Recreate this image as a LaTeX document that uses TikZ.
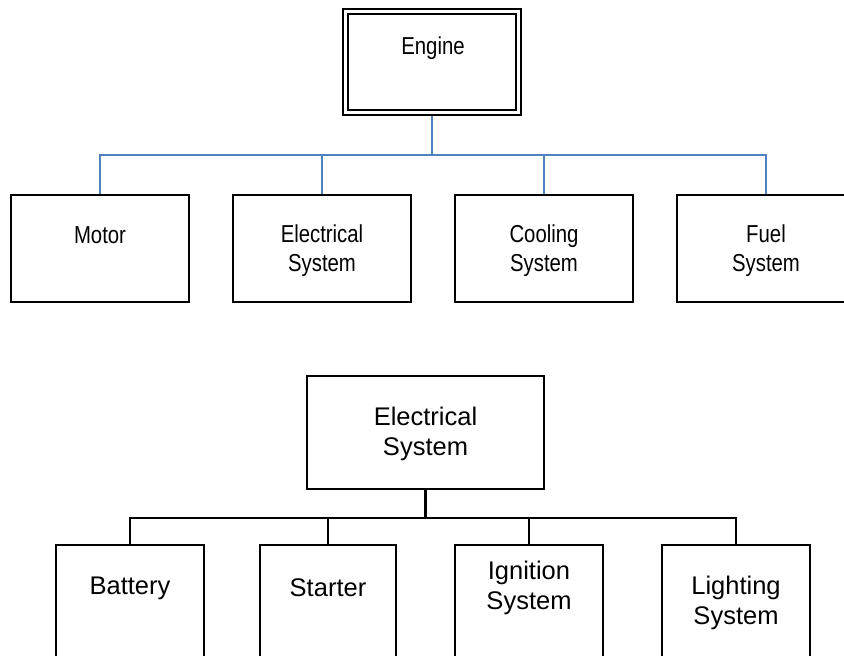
\documentclass[tikz,border=0pt]{standalone}
\usepackage{fontspec}
\setmainfont{Liberation Sans}
\newfontfamily\narrowfont[FakeStretch=0.83]{Liberation Sans}
\definecolor{linkblue}{RGB}{79,129,189}
\begin{document}
\begin{tikzpicture}[x=1pt,y=1pt,
  topbox/.style={draw=black,line width=1.4pt,rectangle,minimum width=178pt,minimum height=107pt,inner sep=0pt},
  botbox/.style={draw=black,line width=1.6pt,rectangle,inner sep=0pt},
  toptext/.style={font=\narrowfont\fontsize{24.5}{29}\selectfont,align=center,inner sep=0pt},
  bottext/.style={font=\fontsize{25.5}{30}\selectfont,align=center,inner sep=0pt},
  bluelink/.style={draw=linkblue,line width=1.8pt},
  blacklink/.style={draw=black,line width=2.4pt}]
\useasboundingbox (0,0) rectangle (844,-656);
% top tree
\node[botbox,line width=1.4pt,minimum width=178pt,minimum height=106pt] (engout) at (432,-62) {};
\node[botbox,line width=1.4pt,minimum width=168pt,minimum height=96pt] (engin) at (432,-62) {};
\node[toptext] (engt) at (433,-48) {Engine};
\node[topbox] (mot) at (100,-248.5) {};
\node[topbox] (ele) at (322,-248.5) {};
\node[topbox] (coo) at (544,-248.5) {};
\node[topbox] (fue) at (766,-248.5) {};
\node[toptext] (mott) at (100,-235.5) {Motor};
\node[toptext] (elet) at (322,-250.5) {Electrical\\System};
\node[toptext] (coot) at (544,-250.5) {Cooling\\System};
\node[toptext] (fuet) at (766,-250.5) {Fuel\\System};
\coordinate (bus1) at (432,-155);
\draw[bluelink] (engout.south) -- (bus1);
\draw[bluelink] (mot.north) |- (bus1) -| (fue.north);
\draw[bluelink] (ele.north) -- (ele.north |- bus1);
\draw[bluelink] (coo.north) -- (coo.north |- bus1);
% bottom tree
\node[botbox,minimum width=237pt,minimum height=113pt] (es) at (425.5,-432.5) {};
\node[bottext] (est) at (425.5,-434) {Electrical\\System};
\node[botbox,minimum width=148pt,minimum height=160pt] (bat) at (130,-625) {};
\node[botbox,minimum width=136pt,minimum height=160pt] (sta) at (328,-625) {};
\node[botbox,minimum width=148pt,minimum height=160pt] (ign) at (529,-625) {};
\node[botbox,minimum width=148pt,minimum height=160pt] (lig) at (736,-625) {};
\node[bottext] (batt) at (130,-588.5) {Battery};
\node[bottext] (stat) at (328,-587.5) {Starter};
\node[bottext] (ignt) at (529,-588) {Ignition\\System};
\node[bottext] (ligt) at (736,-603) {Lighting\\System};
\coordinate (bus2) at (425.5,-518);
\draw[blacklink] (es.south) -- (bus2);
\draw[blacklink] (bat.north) |- (bus2) -| (lig.north);
\draw[blacklink] (sta.north) -- (sta.north |- bus2);
\draw[blacklink] (ign.north) -- (ign.north |- bus2);
\end{tikzpicture}
\end{document}
